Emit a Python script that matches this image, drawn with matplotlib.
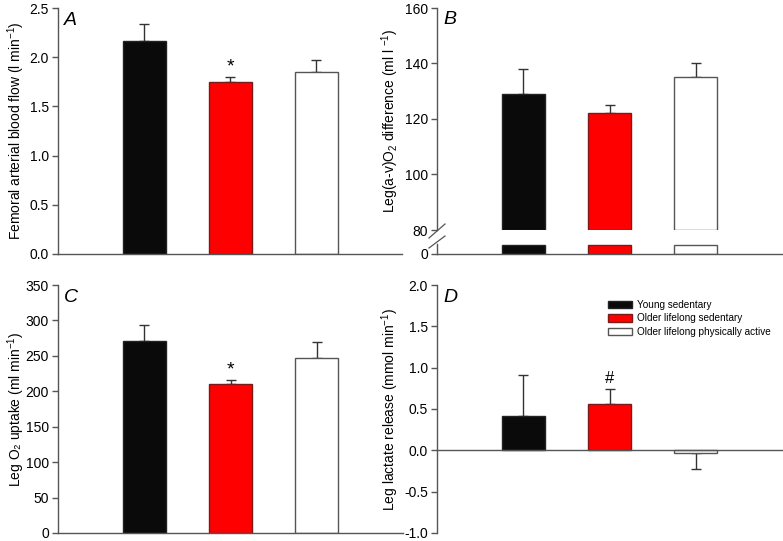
import numpy as np
import matplotlib
matplotlib.use("Agg")
import matplotlib.pyplot as plt
from matplotlib.patches import Patch

plt.rcParams['font.family'] = ['Liberation Sans', 'DejaVu Sans']
plt.rcParams['mathtext.fontset'] = 'custom'
plt.rcParams['mathtext.rm'] = 'Liberation Sans'
plt.rcParams['mathtext.it'] = 'Liberation Sans:italic'

groups = ["Young sedentary", "Older lifelong sedentary", "Older lifelong physically active"]
face_colors = ["#0a0a0a", "#ff0000", "#ffffff"]
edge_colors = ["#222222", "#7a1a1a", "#555555"]

flow_mean = [2.16, 1.75, 1.85]
flow_sem = [0.18, 0.05, 0.12]
avo2_mean = [129, 122, 135]
avo2_sem = [9, 3, 5]
vo2_mean = [271, 210, 247]
vo2_sem = [23, 6, 22]
lac_mean = [0.42, 0.56, -0.03]
lac_sem = [0.49, 0.18, 0.19]

x = np.arange(1, 4)
W, H = 783, 541
fig = plt.figure(figsize=(W / 100, H / 100), dpi=100)

def box(l, t, r, b):
    return [l / W, 1 - b / H, (r - l) / W, (b - t) / H]

FS = 10
SPC = "#555555"

def style(ax):
    for s in ['top', 'right']:
        ax.spines[s].set_visible(False)
    for s in ['left', 'bottom']:
        ax.spines[s].set_color(SPC)
        ax.spines[s].set_linewidth(1.0)
    ax.tick_params(axis='y', direction='out', length=4, width=1, color=SPC, labelsize=FS, pad=2.5)
    ax.tick_params(axis='x', length=0, labelbottom=False)
    ax.set_xlim(0, 4)

def bars(ax, means, sems, bottom=0.0):
    means = np.asarray(means, float)
    sems = np.asarray(sems, float)
    for i in range(3):
        ax.bar(x[i], means[i] - bottom, bottom=bottom, width=0.5, color=face_colors[i],
               edgecolor=edge_colors[i], linewidth=1.0, zorder=2)
        if means[i] >= 0:
            yerr = [[0], [sems[i]]]
        else:
            yerr = [[sems[i]], [0]]
        ax.errorbar(x[i], means[i], yerr=yerr, fmt='none', ecolor='#333333',
                    elinewidth=1.0, capsize=3.5, capthick=1.0, zorder=1)

def letter(ax, s):
    ax.text(0.018, 0.985, s, transform=ax.transAxes, fontsize=14, style='italic',
            ha='left', va='top')

# Panel A
axA = fig.add_axes(box(58, 8, 402, 254))
style(axA)
bars(axA, flow_mean, flow_sem)
axA.set_ylim(0, 2.5)
axA.set_yticks(np.arange(0, 2.51, 0.5))
axA.set_yticklabels([f"{v:.1f}" for v in np.arange(0, 2.51, 0.5)])
axA.set_ylabel("Femoral arterial blood flow (l min$^{-1}$)", fontsize=FS)
letter(axA, "A")
axA.annotate("*", (x[1], flow_mean[1] + flow_sem[1]), xytext=(0, 1), textcoords='offset points',
             ha='center', va='bottom', fontsize=14)

# Panel B (broken axis)
axB = fig.add_axes(box(437, 8, 782, 230))
style(axB)
axB.spines['bottom'].set_visible(False)
bars(axB, avo2_mean, avo2_sem, bottom=80)
axB.set_ylim(80, 160)
axB.set_yticks([80, 100, 120, 140, 160])
axB.set_ylabel("Leg(a-v)O$_2$ difference (ml l $^{-1}$)", fontsize=FS)
axB.yaxis.set_label_coords(-0.105, 0.49)
letter(axB, "B")

axB2 = fig.add_axes(box(437, 244, 782, 254))
style(axB2)
low_top = 10
axB2.set_ylim(0, low_top + 0.6)
for i in range(3):
    axB2.bar(x[i], min(avo2_mean[i], low_top), width=0.5, color=face_colors[i],
             edgecolor=edge_colors[i], linewidth=1.0)
axB2.set_yticks([0])
axB2.patch.set_alpha(0)

# break marks
kw = dict(color=SPC, linewidth=0.9, clip_on=False)
fig.add_artist(plt.Line2D([429 / W, 445 / W], [1 - 238 / H, 1 - 224 / H], transform=fig.transFigure, **kw))
fig.add_artist(plt.Line2D([429 / W, 445 / W], [1 - 248 / H, 1 - 236 / H], transform=fig.transFigure, **kw))

# Panel C
axC = fig.add_axes(box(58, 285, 403, 533))
style(axC)
bars(axC, vo2_mean, vo2_sem)
axC.set_ylim(0, 350)
axC.set_yticks(np.arange(0, 351, 50))
axC.set_ylabel("Leg O₂ uptake (ml min$^{-1}$)", fontsize=FS)
letter(axC, "C")
axC.annotate("*", (x[1], vo2_mean[1] + vo2_sem[1]), xytext=(0, 1), textcoords='offset points',
             ha='center', va='bottom', fontsize=14)

# Panel D
axD = fig.add_axes(box(437, 285, 782, 533))
style(axD)
axD.spines['bottom'].set_position(('data', 0))
bars(axD, lac_mean, lac_sem)
axD.set_ylim(-1.0, 2.0)
axD.set_yticks(np.arange(-1.0, 2.01, 0.5))
axD.set_yticklabels([f"{v:.1f}" for v in np.arange(-1.0, 2.01, 0.5)])
axD.set_ylabel("Leg lactate release (mmol min$^{-1}$)", fontsize=FS)
letter(axD, "D")
axD.annotate("#", (x[1], lac_mean[1] + lac_sem[1]), xytext=(0, 2), textcoords='offset points',
             ha='center', va='bottom', fontsize=12)

handles = [Patch(facecolor=face_colors[i], edgecolor=edge_colors[i], linewidth=1.0) for i in range(3)]
axD.legend(handles, groups, loc='upper left', bbox_to_anchor=(0.495, 0.94), frameon=False,
           fontsize=7.2, handlelength=2.4, handleheight=0.8, handletextpad=0.5,
           labelspacing=0.35, borderpad=0, borderaxespad=0)

# y label positions
axA.yaxis.set_label_coords(-0.09, 0.5)
axC.yaxis.set_label_coords(-0.09, 0.5)
axD.yaxis.set_label_coords(-0.105, 0.5)

fig.savefig("out.png", dpi=100)
